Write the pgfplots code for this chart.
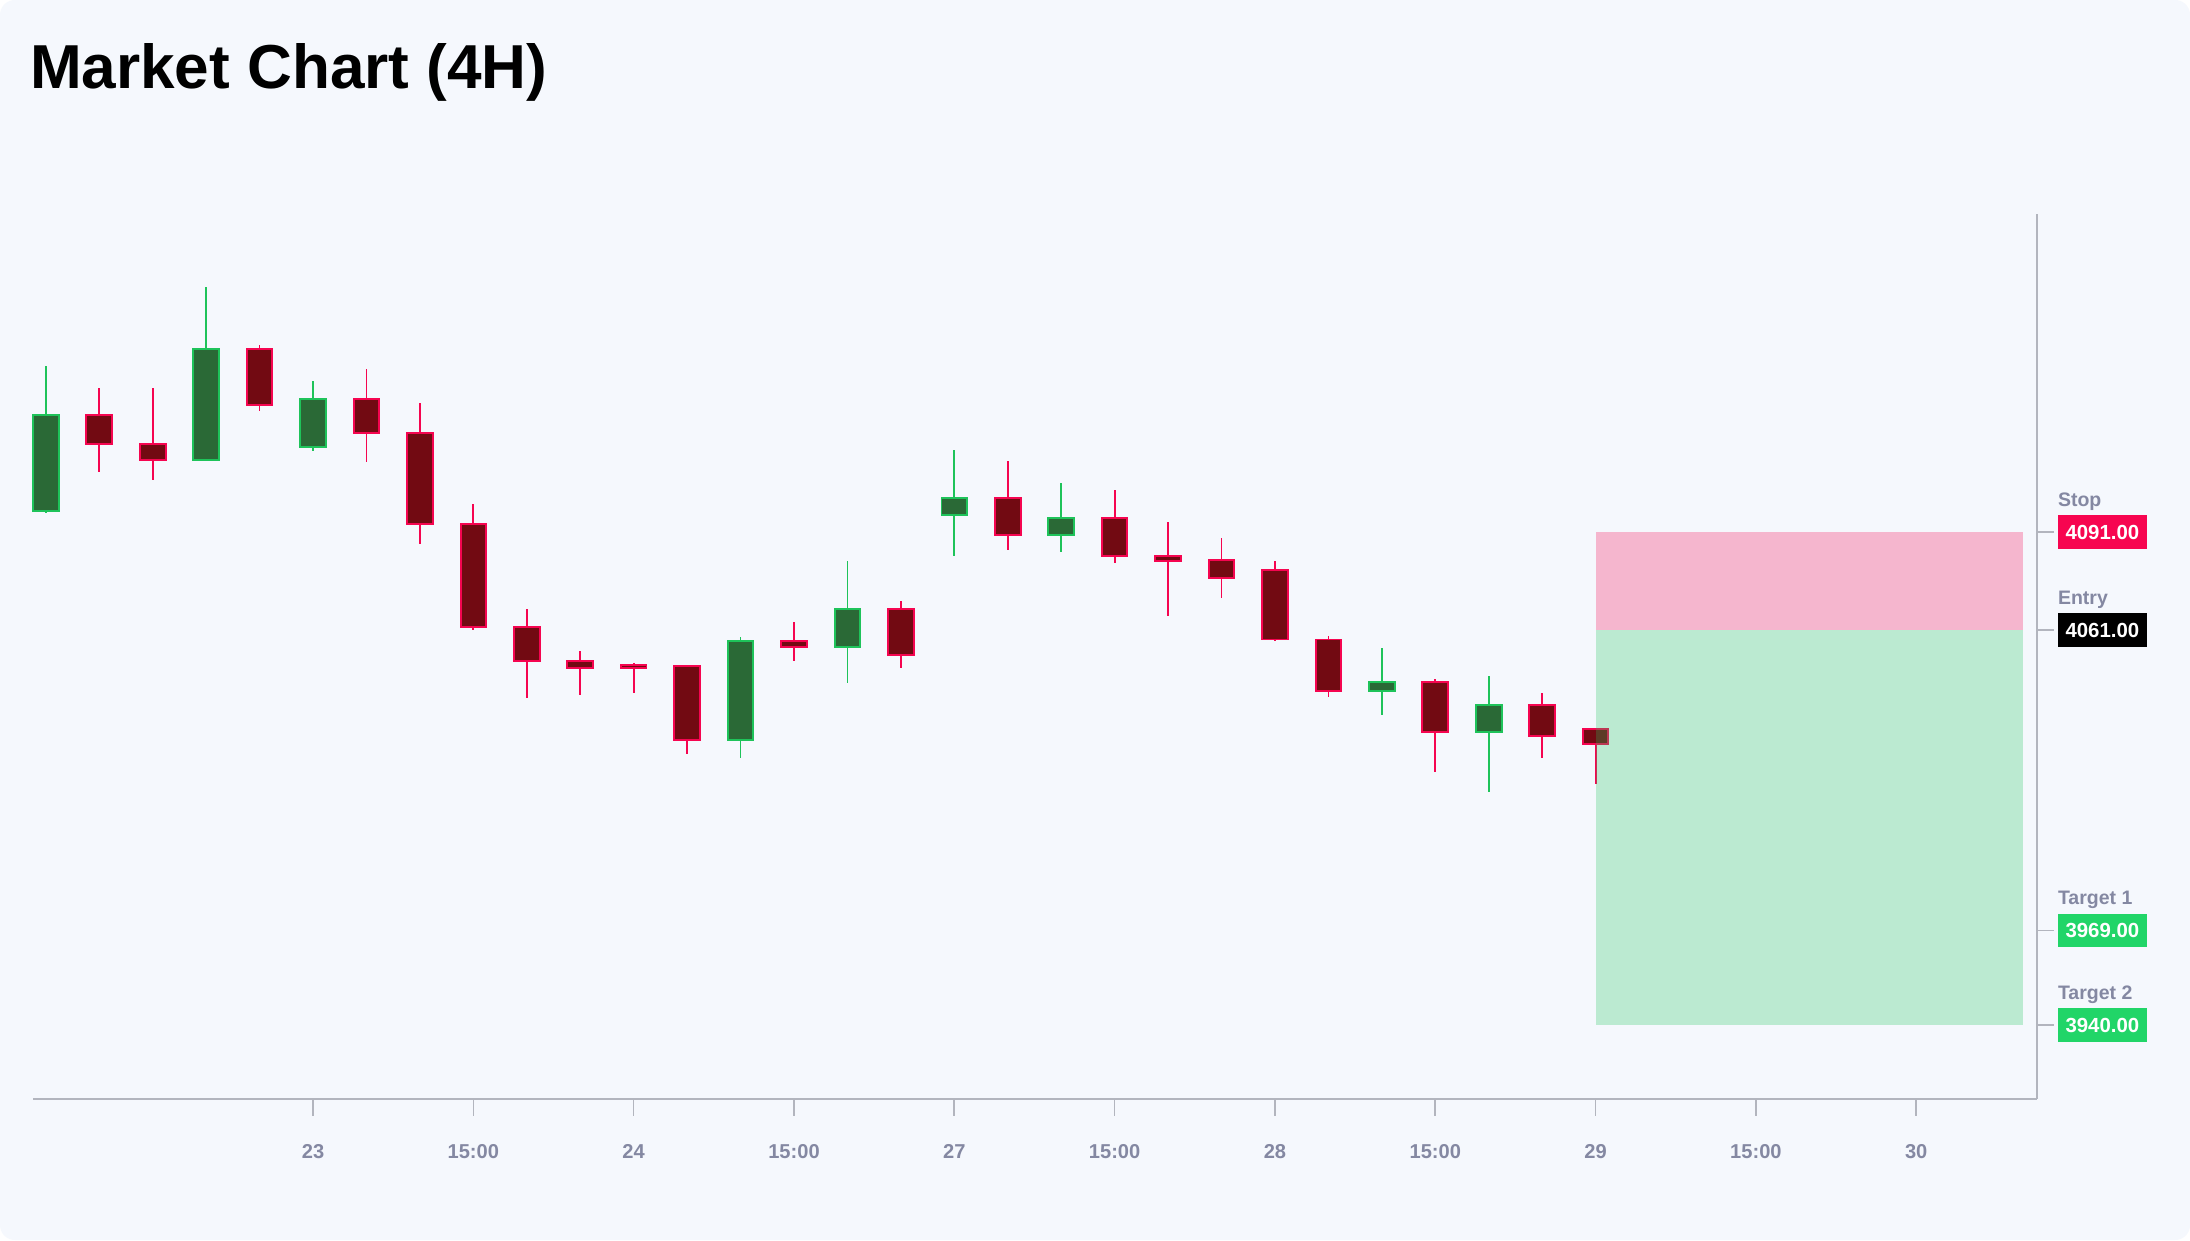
\documentclass[border=0pt]{standalone}
\usepackage{pgfplots}
\usepackage{pgfplotstable}
\pgfplotsset{compat=1.18}
\usepackage{fontspec}
\setmainfont{Liberation Sans}
\setlength{\fboxsep}{0pt}
\definecolor{bgc}{RGB}{245,248,253}
\definecolor{upline}{RGB}{30,195,90}
\definecolor{upfill}{RGB}{42,105,54}
\definecolor{dnline}{RGB}{245,5,80}
\definecolor{dnfill}{RGB}{114,10,18}
\definecolor{axisc}{RGB}{178,181,190}
\definecolor{tickc}{RGB}{132,136,162}
\definecolor{stopc}{RGB}{247,5,80}
\definecolor{tgtc}{RGB}{33,213,104}
\definecolor{boxgreen}{RGB}{34,197,94}

\pgfplotstableread{
x o h l c
0 4097.4 4141.9 4096.8 4126.9
3 4113.2 4165.9 4112.8 4147.0
5 4117.1 4137.2 4115.8 4131.6
13 4027.3 4058.9 4021.7 4057.6
15 4055.9 4082.0 4044.8 4067.5
17 4096.1 4116.2 4083.7 4101.3
19 4090.1 4106.0 4085.0 4095.3
25 4042.2 4055.5 4035.0 4045.2
27 4029.8 4046.9 4011.4 4038.0
}\up

\pgfplotstableread{
x o h l c
1 4126.9 4135.1 4109.4 4117.9
2 4117.9 4135.1 4106.8 4113.2
4 4147.0 4148.3 4128.2 4129.9
6 4131.6 4141.0 4112.4 4121.4
7 4121.4 4130.4 4087.2 4093.6
8 4093.6 4099.6 4061.1 4061.9
9 4061.9 4067.5 4040.1 4051.6
10 4051.6 4054.6 4041.0 4049.5
11 4050.4 4050.8 4041.8 4049.5
12 4049.9 4050.4 4023.0 4027.3
14 4057.6 4063.6 4051.6 4055.9
16 4067.5 4070.0 4049.5 4053.4
18 4101.3 4112.8 4085.4 4090.1
20 4095.3 4103.8 4081.6 4083.7
21 4083.7 4094.0 4065.3 4082.0
22 4082.4 4089.3 4070.9 4076.9
23 4079.5 4082.0 4057.6 4058.1
24 4058.1 4059.3 4040.5 4042.2
26 4045.2 4046.1 4017.4 4029.8
28 4038.0 4041.8 4021.7 4028.5
29 4030.7 4030.9 4014.0 4026.0
}\down

\newcommand{\pricelbl}[3]{\makebox[0pt][l]{\raisebox{11.1pt}[0pt][0pt]{\fontsize{6.5}{8}\selectfont\color{tickc}\bfseries #1}}\colorbox{#2}{\rule[-3.1pt]{0pt}{11.2pt}\hspace{2.5pt}\color{white}\bfseries #3\hspace{2.5pt}}}

\begin{document}
\begin{tikzpicture}
\path[use as bounding box] (-11pt,-47pt) rectangle (719pt,366.33pt);
\fill[white] (-11pt,-47pt) rectangle (719pt,366.33pt);
\fill[bgc, rounded corners=5pt] (-11pt,-47pt) rectangle (719pt,366.33pt);
\node[anchor=base west, inner sep=0pt, font=\fontsize{20.7}{24}\selectfont\bfseries] at (-1.2pt,336.9pt) {Market Chart (4H)};
\begin{axis}[
  at={(0,0)}, anchor=south west,
  width=668pt, height=295.13pt, scale only axis,
  xmin=-0.24, xmax=37.26, ymin=3917.4, ymax=4188.5,
  axis x line*=bottom, axis y line*=right,
  axis line style={draw=axisc, line width=0.65pt, -},
  tick align=outside, major tick length=5.6pt,
  tick style={draw=axisc, line width=0.55pt},
  xtick={5,8,11,14,17,20,23,26,29,32,35},
  xticklabels={23,15:00,24,15:00,27,15:00,28,15:00,29,15:00,30},
  xticklabel style={font=\fontsize{6.7}{8}\selectfont\bfseries, text=tickc, anchor=north, inner sep=0pt, yshift=-9.3pt},
  ytick={3940,3969,4061,4091},
  yticklabels={{\pricelbl{Target 2}{tgtc}{3940.00}},{\pricelbl{Target 1}{tgtc}{3969.00}},{\pricelbl{Entry}{black}{4061.00}},{\pricelbl{Stop}{stopc}{4091.00}}},
  yticklabel style={font=\fontsize{6.8}{8}\selectfont, anchor=west, inner sep=0pt, xshift=1.2pt},
  clip=false,
]
% wicks
\addplot[draw=none, mark=none, forget plot,
  error bars/.cd, y dir=both, y explicit, error mark=none,
  error bar style={draw=upline, line width=0.6pt}]
  table[x=x, y expr={(\thisrow{h}+\thisrow{l})/2}, y error expr={(\thisrow{h}-\thisrow{l})/2}] {\up};
\addplot[draw=none, mark=none, forget plot,
  error bars/.cd, y dir=both, y explicit, error mark=none,
  error bar style={draw=dnline, line width=0.6pt}]
  table[x=x, y expr={(\thisrow{h}+\thisrow{l})/2}, y error expr={(\thisrow{h}-\thisrow{l})/2}] {\down};
% outer bodies
\addplot[draw=none, mark=none, forget plot,
  error bars/.cd, y dir=both, y explicit, error mark=none,
  error bar style={draw=upline, line width=9.2pt}]
  table[x=x, y expr={(\thisrow{o}+\thisrow{c})/2}, y error expr={abs(\thisrow{c}-\thisrow{o})/2+0.3}] {\up};
\addplot[draw=none, mark=none, forget plot,
  error bars/.cd, y dir=both, y explicit, error mark=none,
  error bar style={draw=dnline, line width=9.2pt}]
  table[x=x, y expr={(\thisrow{o}+\thisrow{c})/2}, y error expr={abs(\thisrow{c}-\thisrow{o})/2+0.3}] {\down};
% inner bodies
\addplot[draw=none, mark=none, forget plot,
  error bars/.cd, y dir=both, y explicit, error mark=none,
  error bar style={draw=upfill, line width=7.9pt}]
  table[x=x, y expr={(\thisrow{o}+\thisrow{c})/2}, y error expr={max(abs(\thisrow{c}-\thisrow{o})/2-0.3,0)}] {\up};
\addplot[draw=none, mark=none, forget plot,
  error bars/.cd, y dir=both, y explicit, error mark=none,
  error bar style={draw=dnfill, line width=7.9pt}]
  table[x=x, y expr={(\thisrow{o}+\thisrow{c})/2}, y error expr={max(abs(\thisrow{c}-\thisrow{o})/2-0.3,0)}] {\down};
% trade zones
\addplot[draw=none, fill=dnline, fill opacity=0.27, forget plot] coordinates {(29,4061) (37,4061) (37,4091) (29,4091)};
\addplot[draw=none, fill=boxgreen, fill opacity=0.27, forget plot] coordinates {(29,3940) (37,3940) (37,4061) (29,4061)};
\end{axis}
\end{tikzpicture}
\end{document}
